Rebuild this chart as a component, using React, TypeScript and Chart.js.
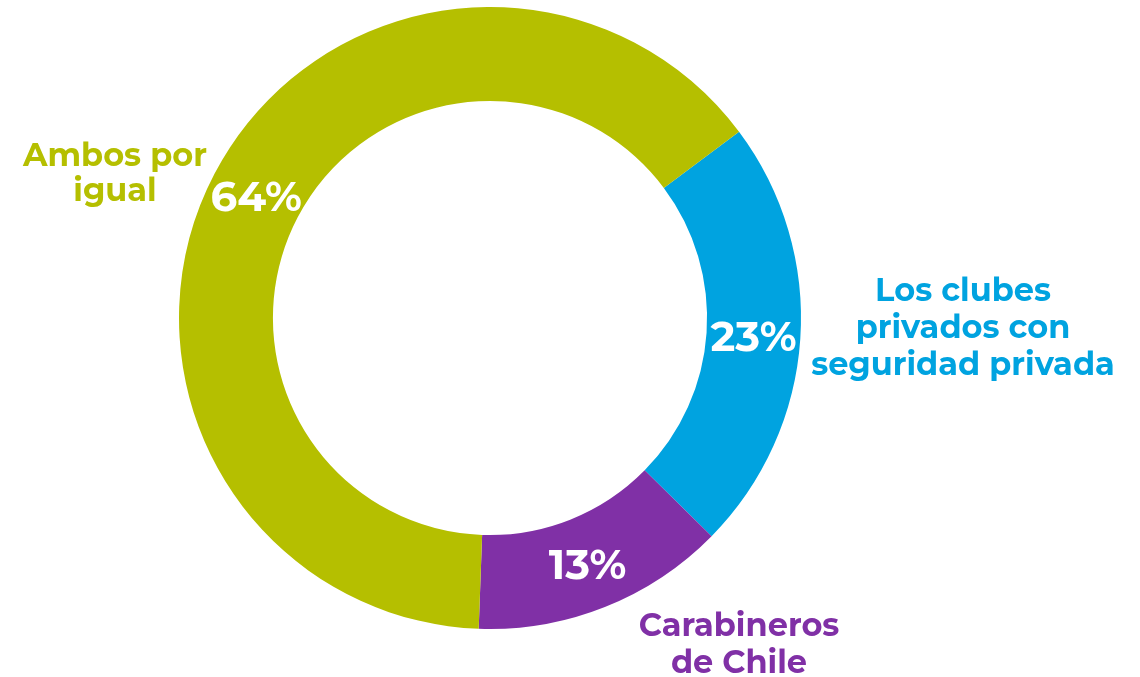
import React, { useEffect, useRef } from "react";
import { Chart, registerables } from "chart.js";

Chart.register(...registerables);

const categories = ["Los clubes privados con seguridad privada", "Carabineros de Chile", "Ambos por igual"];
const categoryLines = [["Los clubes", "privados con", "seguridad privada"], ["Carabineros", "de Chile"], ["Ambos por", "igual"]];
const values = [22.6, 13.2, 64.2];
const colors = ["#00A3E0", "#8030A6", "#B5BF00"];

const FONT = "Montserrat, Inter, 'Open Sans', sans-serif";

const labelsPlugin = {
  id: "ringLabels",
  afterDatasetsDraw(chart: any, _args: any, opts: any) {
    const ctx = chart.ctx;
    const meta = chart.getDatasetMeta(0);
    const data = chart.data.datasets[0].data as number[];
    ctx.save();
    ctx.textAlign = "center";
    ctx.textBaseline = "middle";
    meta.data.forEach((arc: any, i: number) => {
      const p = arc.getCenterPoint();
      ctx.fillStyle = "#ffffff";
      ctx.font = `700 42px ${FONT}`;
      ctx.fillText(`${Math.round(data[i])}%`, p.x, p.y + 3);
      const anchor = opts.anchors[i];
      const lines = categoryLines[i];
      ctx.fillStyle = colors[i];
      ctx.font = `700 ${opts.sizes[i]}px ${FONT}`;
      lines.forEach((t: string, j: number) => {
        ctx.fillText(t, anchor.x, anchor.y + (j - (lines.length - 1) / 2) * opts.lineHeights[i]);
      });
    });
    ctx.restore();
  },
};

export default function App() {
  const ref = useRef<HTMLCanvasElement>(null);
  useEffect(() => {
    const chart = new Chart(ref.current!, {
      type: "doughnut",
      data: {
        labels: categories,
        datasets: [
          {
            data: values,
            backgroundColor: colors,
            borderWidth: 0,
          },
        ],
      },
      options: {
        responsive: false,
        animation: false,
        rotation: 53.2,
        cutout: "69.8%",
        layout: { padding: { left: 179, right: 339, top: 7, bottom: 48 } },
        plugins: {
          legend: { display: false },
          tooltip: { enabled: false },
          ringLabels: {
            anchors: [
              { x: 963, y: 329 },
              { x: 739, y: 645 },
              { x: 115, y: 174 },
            ],
            sizes: [32, 32, 32],
            lineHeights: [37, 37, 35],
          },
        } as any,
      },
      plugins: [labelsPlugin],
    });
    return () => chart.destroy();
  }, []);
  return (
    <div style={{ position: "absolute", left: 0, top: 0, width: 1140, height: 677, background: "#fff" }}>
      <canvas ref={ref} width={1140} height={677} />
    </div>
  );
}
